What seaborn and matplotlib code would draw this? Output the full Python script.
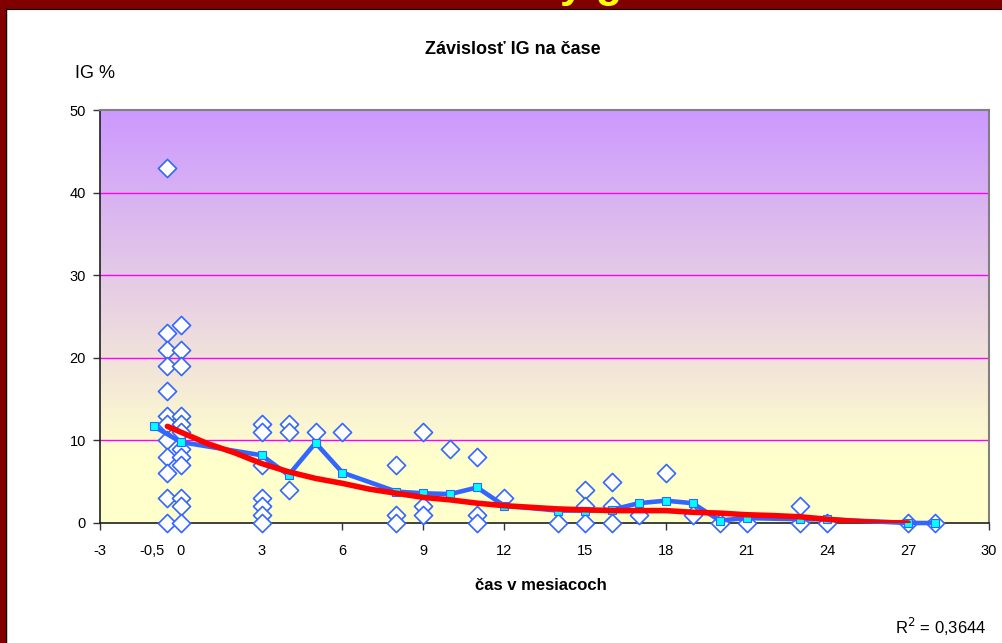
import numpy as np
import pandas as pd
import seaborn as sns
from matplotlib import pyplot as plt
from matplotlib.colors import LinearSegmentedColormap
from matplotlib.patches import Rectangle

# namerane hodnoty IG (%) podla casu
cas_body = [-0.5] * 12 + [0] * 12 + [3] * 7 + [4] * 3 + [5, 6] + [8] * 3 + [9] * 3 + [10] + [11] * 3 + [12, 14] \
    + [15] * 3 + [16] * 3 + [17, 18, 19, 20, 21] + [23] * 2 + [24, 27, 28]
ig_body = [43, 23, 21, 19, 16, 13, 12, 10, 8, 6, 3, 0,
           24, 21, 19, 13, 12, 11, 9, 8, 7, 3, 2, 0,
           12, 11, 7, 3, 2, 1, 0,
           12, 11, 4,
           11, 11,
           7, 1, 0,
           11, 2, 1,
           9,
           8, 1, 0,
           3, 0,
           4, 2, 0,
           5, 2, 0,
           1, 6, 1, 0, 0,
           2, 0,
           0, 0, 0]

# priemery
cas_priemer = [-1, 0, 3, 4, 5, 6, 8, 9, 10, 11, 12, 14, 15, 16, 17, 18, 19, 20, 21, 23, 24, 27, 28]
ig_priemer = [11.7, 9.8, 8.2, 5.8, 9.7, 6.1, 3.8, 3.6, 3.5, 4.3, 2.1, 1.5, 1.5, 1.6, 2.4, 2.7, 2.4,
              0.3, 0.6, 0.45, 0.45, 0, 0]

# trend
cas_trend = [-0.5, 0, 1, 2, 3, 4, 5, 6, 7, 8, 9, 10, 11, 12, 13, 14, 15, 16, 17, 18, 19, 20, 21, 22,
             23, 24, 25, 26, 27]
ig_trend = [11.7, 11.0, 9.6, 8.5, 7.2, 6.2, 5.4, 4.8, 4.1, 3.6, 3.1, 2.8, 2.4, 2.1, 1.9, 1.7, 1.6,
            1.5, 1.5, 1.5, 1.3, 1.2, 1.0, 0.9, 0.75, 0.45, 0.2, 0.05, 0]

x_ticks = [-3, 0, 3, 6, 9, 12, 15, 18, 21, 24, 27, 30]
y_ticks = [0, 10, 20, 30, 40, 50]

sns.set_theme(style='white')
plt.rcParams['font.family'] = ['Liberation Sans', 'DejaVu Sans']

fig = plt.figure(figsize=(10.03, 6.43), dpi=100)
fig.patch.set_facecolor('white')

# ramcek
fig.add_artist(Rectangle((0, 0), 6 / 1003, 1, transform=fig.transFigure, color='#800000', zorder=0))
fig.add_artist(Rectangle((0, 1 - 8 / 643), 1, 8 / 643, transform=fig.transFigure, color='#800000', zorder=0))
fig.add_artist(plt.Line2D([6.5 / 1003, 6.5 / 1003], [0, 1 - 8 / 643], transform=fig.transFigure,
                          color='black', lw=0.8))
fig.add_artist(plt.Line2D([6 / 1003, 1], [1 - 8.5 / 643, 1 - 8.5 / 643], transform=fig.transFigure,
                          color='black', lw=0.8))
fig.text(560 / 1003, 1 + 3 / 643, 'y g', color='#FFFF00', fontsize=31, fontweight='bold', va='baseline')

ax = fig.add_axes([100 / 1003, 1 - 523 / 643, 889 / 1003, 413 / 643])

# pozadie s prechodom
cmap = LinearSegmentedColormap.from_list('bg', ['#FFFFCC', '#CC99FF'])
yy = np.linspace(50, 0, 300)
grad = np.clip((yy - 8) / 42, 0, 1)[:, None]
ax.imshow(grad, extent=[-3, 30, 0, 50], aspect='auto', cmap=cmap, vmin=0, vmax=1, zorder=0)

for y in y_ticks[1:-1]:
    ax.axhline(y, color='#FF00FF', lw=1.0, zorder=1)

body = pd.DataFrame({'cas': cas_body, 'ig': ig_body})
priemer = pd.DataFrame({'cas': cas_priemer, 'ig': ig_priemer})
trend = pd.DataFrame({'cas': cas_trend, 'ig': ig_trend})

sns.scatterplot(data=body, x='cas', y='ig', marker='D', s=85, facecolor='white',
                edgecolor='#3366FF', linewidth=1.2, ax=ax, zorder=3, clip_on=False)
sns.lineplot(data=priemer, x='cas', y='ig', color='#3366FF', lw=3.3, marker='s', markersize=6,
             markerfacecolor='#00FFFF', markeredgecolor='#3366FF', markeredgewidth=0.8,
             ax=ax, zorder=4, clip_on=False)
sns.lineplot(data=trend, x='cas', y='ig', color='#FF0000', lw=4.0, ax=ax, zorder=5)

ax.set_xlim(-3, 30)
ax.set_ylim(0, 50)
ax.set_xticks(x_ticks)
ax.set_xticklabels([str(t) for t in x_ticks])
ax.set_yticks(y_ticks)
ax.set_xlabel('')
ax.set_ylabel('')
ax.tick_params(axis='both', direction='out', length=5, width=1, color='#333333',
               labelsize=10.5, labelcolor='black')
ax.tick_params(axis='x', pad=10, bottom=True)
ax.tick_params(axis='y', pad=5, left=True)
for side in ['left', 'bottom']:
    ax.spines[side].set_color('#202020')
    ax.spines[side].set_linewidth(1.2)
for side in ['top', 'right']:
    ax.spines[side].set_color('#808080')
    ax.spines[side].set_linewidth(1.5)

fig.text(513 / 1003, 1 - 49 / 643, 'Závislosť IG na čase', fontsize=13, fontweight='bold',
         ha='center', va='center', color='black')
fig.text(75 / 1003, 1 - 73 / 643, 'IG %', fontsize=13, ha='left', va='center', color='black')
fig.text(152 / 1003, 1 - 551 / 643, '-0,5', fontsize=10.5, ha='center', va='center', color='black')
fig.text(541 / 1003, 1 - 585 / 643, 'čas v mesiacoch', fontsize=12, fontweight='bold',
         ha='center', va='center', color='black')
fig.text(986 / 1003, 1 - 627 / 643, 'R$^2$ = 0,3644', fontsize=12, ha='right', va='center', color='black')

plt.savefig('out.png', dpi=100)
plt.close()
